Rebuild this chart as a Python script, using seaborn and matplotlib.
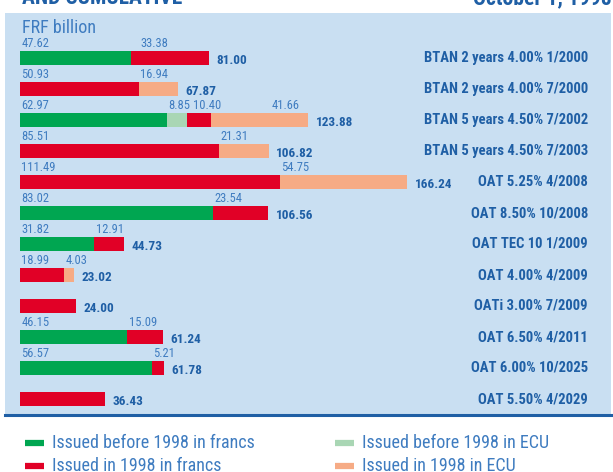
import numpy as np
import pandas as pd
import matplotlib
matplotlib.use("Agg")
import matplotlib.pyplot as plt
from matplotlib.lines import Line2D
from matplotlib import font_manager
import seaborn as sns

# bond lines, top to bottom
bonds = ["BTAN 2 years 4.00% 1/2000", "BTAN 2 years 4.00% 7/2000",
         "BTAN 5 years 4.50% 7/2002", "BTAN 5 years 4.50% 7/2003",
         "OAT 5.25% 4/2008", "OAT 8.50% 10/2008", "OAT TEC 10 1/2009",
         "OAT 4.00% 4/2009", "OATi 3.00% 7/2009", "OAT 6.50% 4/2011",
         "OAT 6.00% 10/2025", "OAT 5.50% 4/2029"]
# amounts in FRF billion by category
before_frf = [47.62, 0, 62.97, 0, 0, 83.02, 31.82, 0, 0, 46.15, 56.57, 0]
before_ecu = [0, 0, 8.85, 0, 0, 0, 0, 0, 0, 0, 0, 0]
in98_frf = [33.38, 50.93, 10.40, 85.51, 111.49, 23.54, 12.91, 18.99, 24.00, 15.09, 5.21, 36.43]
in98_ecu = [0, 16.94, 41.66, 21.31, 54.75, 0, 0, 4.03, 0, 0, 0, 0]
totals = [81.00, 67.87, 123.88, 106.82, 166.24, 106.56, 44.73, 23.02, 24.00, 61.24, 61.78, 36.43]
# rows where the segment values are printed
show_parts = [True, True, True, True, True, True, True, True, False, True, True, False]

series_names = ["Issued before 1998 in francs", "Issued before 1998 in ECU",
                "Issued in 1998 in francs", "Issued in 1998 in ECU"]
colors = ["#00a651", "#a9d6b4", "#e10026", "#f6ab85"]

DARK = "#1f5fa5"
MID = "#3f7cc0"
PANEL = "#c9dff2"

sns.set_theme(style="white")

# prefer a condensed face if one is installed
names = {f.name for f in font_manager.fontManager.ttflist}
narrow = [n for n in ["Liberation Sans Narrow", "Roboto Condensed", "Open Sans Condensed",
                      "DejaVu Sans Condensed", "Noto Sans Condensed", "Roboto"] if n in names]
plt.rcParams["font.family"] = narrow[:1] + ["DejaVu Sans"]
plt.rcParams["font.stretch"] = "condensed"

W, H = 613, 472
fig = plt.figure(figsize=(W / 100, H / 100), dpi=100)
fig.patch.set_facecolor("white")

# panel in pixels
left, right, top, bottom = 5, 611, 13, 415
ax = fig.add_axes([left / W, 1 - bottom / H, (right - left) / W, (bottom - top) / H])
ax.set_facecolor(PANEL)

df = pd.DataFrame({"bond": bonds, "a": before_frf, "b": before_ecu,
                   "c": in98_frf, "d": in98_ecu})
parts = df[["a", "b", "c", "d"]].to_numpy()
cum = np.cumsum(parts, axis=1)

# stacked bars: draw cumulative sums from widest to narrowest
for k in range(3, -1, -1):
    sns.barplot(x=cum[:, k], y=df["bond"], orient="h", color=colors[k],
                saturation=1, width=0.45, ax=ax, linewidth=0)

px = 2.328  # pixels per unit
x0 = 20
ax.set_xlim(-(x0 - left) / px, (right - x0) / px)
step = 31.0
ax.set_ylim((bottom - 58) / step, (top - 58) / step)
ax.set_xlabel("")
ax.set_ylabel("")
ax.set_xticks([])
ax.set_yticks([])
for s in ["top", "left", "right"]:
    ax.spines[s].set_visible(False)
ax.spines["bottom"].set_color(DARK)
ax.spines["bottom"].set_linewidth(2.2)

# a few value labels sit further right than their segment start (pixels)
nudge = {(0, 2): 8, (2, 2): 4, (2, 3): 59}

for i in range(len(bonds)):
    if show_parts[i]:
        start = 0
        for k in range(4):
            v = parts[i, k]
            if v > 0:
                dx = (1.5 + nudge.get((i, k), 0)) / px
                ax.text(start + dx, i - 0.27, f"{v:.2f}", color=MID, fontsize=9,
                        ha="left", va="bottom")
            start += v
    ax.text(totals[i] + 3.2, i + 0.07, f"{totals[i]:.2f}", color=DARK, fontsize=9.5,
            fontweight="bold", ha="left", va="center")
    ax.text((588 - x0) / px, i, bonds[i], color=DARK, fontsize=10.5,
            fontweight="bold", ha="right", va="center")

fig.text(22 / W, 1 - 33 / H, "FRF billion", color=MID, fontsize=13, ha="left",
         va="baseline")

# cropped heading
fig.text(22 / W, 1 - 4 / H, "AND CUMULATIVE", color=DARK, fontsize=15.5,
         fontweight="bold", ha="left", va="baseline")
fig.text(612 / W, 1 - 4 / H, "October 1, 1998", color=DARK, fontsize=15.5,
         fontweight="bold", ha="right", va="baseline")

# legend
leg_pos = [(25, 443), (335, 443), (25, 466), (335, 466)]
for (lx, ly), name, col in zip(leg_pos, series_names, colors):
    fig.add_artist(Line2D([lx / W, (lx + 19) / W], [1 - ly / H, 1 - ly / H],
                          color=col, linewidth=4.5, solid_capstyle="butt"))
    fig.text((lx + 27) / W, 1 - ly / H, name, color=MID, fontsize=13,
             ha="left", va="center")

fig.savefig("out.png", dpi=100, facecolor="white")
